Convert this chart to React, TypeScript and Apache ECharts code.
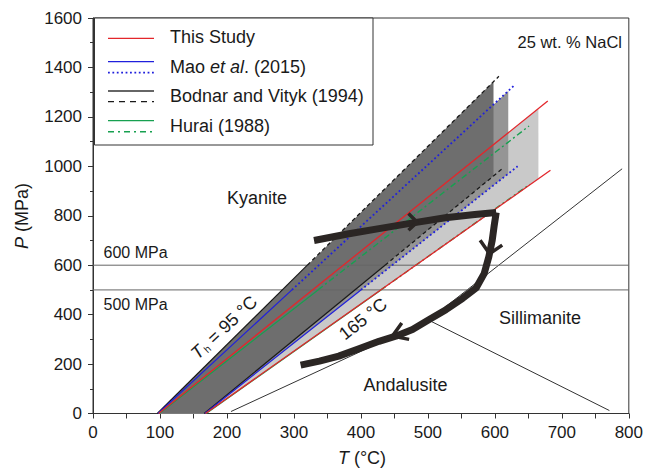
import React, { useEffect, useRef } from 'react';
import * as echarts from 'echarts';

// ---------- data (T in °C, P in MPa) ----------
// This Study isochores (red, solid)
const thisStudyTop = [[98, 0], [679, 1264]];
const thisStudyBottom = [[168, 0], [683, 984]];
// Mao et al. (2015) (blue: solid low-P part, dotted high-P part)
const maoTopSolid = [[97, 0], [297, 500]];
const maoTopDotted = [[297, 500], [630, 1330]];
const maoBottomSolid = [[167, 0], [400, 500]];
const maoBottomDotted = [[400, 500], [634, 1000]];
// Bodnar and Vityk (1994) (black: solid / dashed)
const bodnarTopSolid = [[96, 0], [320, 600]];
const bodnarTopDashed = [[320, 600], [606, 1364]];
const bodnarBottomSolid = [[166, 0], [436, 600]];
const bodnarBottomDashed = [[436, 600], [610, 988]];
// Hurai (1988) (green: solid / dash-dot)
const huraiTopSolid = [[99, 0], [336, 500]];
const huraiTopDashDot = [[336, 500], [651, 1163]];
const huraiBottomSolid = [[169, 0], [430, 500]];
const huraiBottomDashDot = [[430, 500], [652, 927]];

// isochore fields (gray areas)
const thisStudyField = [[98, 0], [665, 1234], [665, 949], [168, 0]];
const maoField = [[97, 0], [620, 1305], [620, 970], [167, 0]];
const bodnarField = [[96, 0], [598, 1343], [598, 961], [166, 0]];

// Al2SiO5 phase boundaries
const andalusiteKyanite = [[206, 8], [501, 378]];
const kyaniteSillimanite = [[501, 378], [790, 990]];
const andalusiteSillimanite = [[501, 378], [771, 12]];

// reference pressures
const refPressures = [600, 500];
const refPressureLabels = ['600 MPa', '500 MPa'];

// P-T path
const pathUpper = [[330, 700], [380, 726], [427, 748], [478, 771], [526, 792], [570, 805], [602, 813]];
const pathLower = [
  [602, 813], [599, 760], [596, 700], [591, 634], [584, 566], [572, 508], [552, 466],
  [527, 420], [502, 380], [477, 340], [452, 313], [427, 292], [397, 262], [367, 232],
  [338, 212], [310, 196],
];
const arrowRight = [[471, 809], [484, 774], [471, 741]];
const arrowDown = [[578, 701], [592, 646], [611, 681]];
const arrowLeft = [[461, 366], [447, 313], [472, 300]];

// axes
const tMin = 0, tMax = 800, tStep = 100;
const pMin = 0, pMax = 1600, pStep = 200;

const FONT = '"Liberation Sans", Arial, Helvetica, sans-serif';
const RED = '#e3262b';
const BLUE = '#2020dc';
const BLACK = '#1a1a1a';
const GREEN = '#17a050';

function line(data: number[][], color: string, type: any, width: number, z: number) {
  return {
    type: 'line',
    data,
    symbol: 'none',
    showSymbol: false,
    silent: true,
    z,
    lineStyle: { color, width, type, cap: 'butt', join: 'round' },
  };
}

function field(points: number[][], color: string, z: number) {
  return {
    type: 'custom',
    silent: true,
    z,
    data: [points[0]],
    renderItem: (_params: any, api: any) => ({
      type: 'polygon',
      shape: { points: points.map((p) => api.coord(p)) },
      style: { fill: color, stroke: 'none' },
    }),
  };
}

export default function App() {
  const ref = useRef<HTMLDivElement>(null);

  useEffect(() => {
    if (!ref.current) return;
    const chart = echarts.init(ref.current, undefined, { renderer: 'svg' });

    const series: any[] = [
      field(thisStudyField, '#c9c9c9', 1),
      field(maoField, '#959595', 2),
      field(bodnarField, '#6e6e6e', 3),

      line(bodnarTopSolid, BLACK, 'solid', 1.2, 5),
      line(bodnarTopDashed, BLACK, [4, 3], 1.3, 5),
      line(bodnarBottomSolid, BLACK, 'solid', 1.2, 5),
      line(bodnarBottomDashed, BLACK, [4, 3], 1.3, 5),
      line(maoTopSolid, BLUE, 'solid', 1.2, 6),
      line(maoTopDotted, BLUE, [1.8, 2.6], 1.8, 6),
      line(maoBottomSolid, BLUE, 'solid', 1.2, 6),
      line(maoBottomDotted, BLUE, [1.8, 2.6], 1.8, 6),
      line(huraiTopSolid, GREEN, 'solid', 1.2, 7),
      line(huraiTopDashDot, GREEN, [6, 3, 2, 3], 1.4, 7),
      line(huraiBottomSolid, GREEN, 'solid', 1.2, 7),
      line(huraiBottomDashDot, GREEN, [6, 3, 2, 3], 1.4, 7),
      line(thisStudyTop, RED, 'solid', 1.3, 8),
      line(thisStudyBottom, RED, 'solid', 1.3, 8),

      line(andalusiteKyanite, '#333', 'solid', 1, 4),
      line(kyaniteSillimanite, '#333', 'solid', 1, 4),
      line(andalusiteSillimanite, '#333', 'solid', 1, 4),
      ...refPressures.map((p) => line([[tMin, p], [tMax, p]], '#666', 'solid', 1, 4)),

      line(pathUpper, '#2b2624', 'solid', 7, 10),
      line(pathLower, '#2b2624', 'solid', 7, 10),
      line(arrowRight, '#2b2624', 'solid', 3.5, 11),
      line(arrowDown, '#2b2624', 'solid', 3.5, 11),
      line(arrowLeft, '#2b2624', 'solid', 3.5, 11),
    ];

    const legendRows = [
      { y: 37, text: 'This Study', rich: false },
      { y: 67, text: '{n|Mao }{i|et al}{n|. (2015)}', rich: true },
      { y: 96, text: 'Bodnar and Vityk (1994)', rich: false },
      { y: 125.5, text: 'Hurai (1988)', rich: false },
    ];
    const sample = (y: number, color: string, dash: any, w: number) => ({
      type: 'line',
      shape: { x1: 108, y1: y, x2: 154, y2: y },
      style: { stroke: color, lineWidth: w, lineDash: dash },
      z: 100,
    });
    const txt = (x: number, y: number, text: string, size: number, extra: any = {}) => ({
      type: 'text',
      x,
      y,
      z: 100,
      ...extra.el,
      style: {
        text,
        fontFamily: FONT,
        fontSize: size,
        fill: '#1a1a1a',
        align: 'left',
        verticalAlign: 'middle',
        ...extra.style,
      },
    });
    const rich = {
      n: { fontFamily: FONT, fontSize: 18, fill: '#1a1a1a' },
      i: { fontFamily: FONT, fontSize: 18, fontStyle: 'italic', fill: '#1a1a1a' },
      s: { fontFamily: FONT, fontSize: 10, fill: '#1a1a1a', padding: [9, 0, 0, 1] },
    };

    const graphic: any[] = [
      {
        type: 'rect',
        shape: { x: 94.5, y: 18, width: 278.5, height: 127 },
        style: { fill: '#fff', stroke: '#333', lineWidth: 1 },
        z: 99,
      },
      sample(38.3, RED, null, 1.3),
      sample(61.7, BLUE, null, 1.3),
      sample(72.7, BLUE, [1.8, 2.6], 1.8),
      sample(91, '#333', null, 1.3),
      sample(101.7, BLACK, [6, 5], 1.3),
      sample(120.7, GREEN, null, 1.3),
      sample(131.7, GREEN, [6, 4, 2, 4], 1.4),
      ...legendRows.map((r) =>
        r.rich
          ? txt(170, r.y, r.text, 18, { style: { rich } })
          : txt(170, r.y, r.text, 18)
      ),
      txt(622, 42, '25 wt. % NaCl', 16.5, { style: { align: 'right' } }),
      txt(257, 198, 'Kyanite', 18, { style: { align: 'center' } }),
      txt(540, 318, 'Sillimanite', 18, { style: { align: 'center' } }),
      txt(405.5, 385, 'Andalusite', 18, { style: { align: 'center' } }),
      txt(103.5, 252.5, refPressureLabels[0], 16, {}),
      txt(103.5, 304, refPressureLabels[1], 16, {}),
      txt(224, 327.5, '{i|T}{s|h}{n| = 95 °C}', 18, {
        el: { rotation: (43 * Math.PI) / 180 },
        style: { align: 'center', rich },
      }),
      txt(363, 319, '165 °C', 18, {
        el: { rotation: (38.4 * Math.PI) / 180 },
        style: { align: 'center' },
      }),
      txt(362, 458, '{i|T}{n| (°C)}', 18, { style: { align: 'center', rich } }),
      txt(21.5, 216, '{i|P}{n| (MPa)}', 18, {
        el: { rotation: Math.PI / 2 },
        style: { align: 'center', rich },
      }),
    ];

    const axisCommon = {
      type: 'value',
      axisLine: { show: true, lineStyle: { color: '#333', width: 1 } },
      axisTick: { show: true, inside: false, length: 5, lineStyle: { color: '#333' } },
      splitLine: { show: false },
      axisLabel: {
        color: '#1a1a1a',
        fontSize: 17,
        fontFamily: FONT,
        margin: 10,
        formatter: (v: number) => String(v),
      },
    };

    chart.setOption({
      animation: false,
      backgroundColor: '#ffffff',
      grid: {
        left: 93,
        right: 16,
        top: 18,
        bottom: 56.5,
        show: true,
        borderColor: '#333',
        borderWidth: 1,
        backgroundColor: 'transparent',
        containLabel: false,
      },
      xAxis: {
        ...axisCommon,
        min: tMin,
        max: tMax,
        interval: tStep,
        minorTick: { show: true, splitNumber: 2, length: 5, lineStyle: { color: '#333' } },
      },
      yAxis: {
        ...axisCommon,
        min: pMin,
        max: pMax,
        interval: pStep,
        minorTick: { show: true, splitNumber: 2, length: 3, lineStyle: { color: '#333' } },
        axisLabel: { ...axisCommon.axisLabel, margin: 11 },
      },
      series,
      graphic,
    });

    return () => chart.dispose();
  }, []);

  return <div ref={ref} style={{ width: 646, height: 470, position: 'absolute', left: 0, top: 0 }} />;
}
